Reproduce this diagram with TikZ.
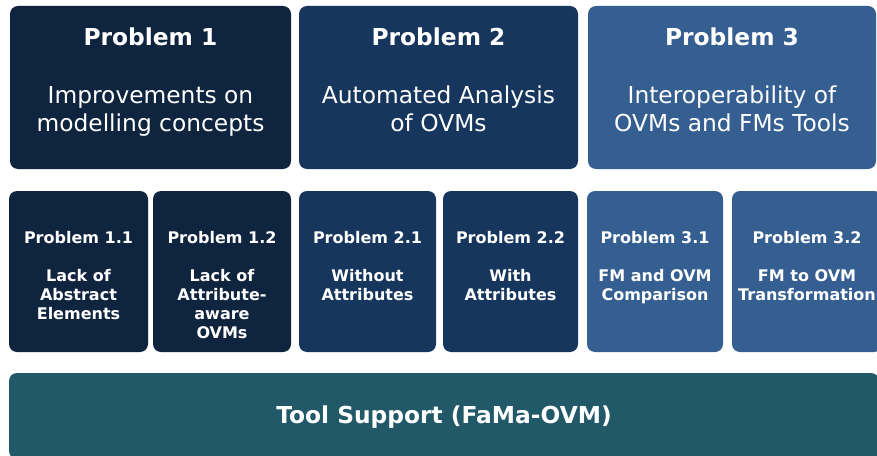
\documentclass[tikz,border=0pt]{standalone}
\usepackage{fontspec}
\setmainfont{DejaVu Sans}
\usepackage{tikz}
\usetikzlibrary{positioning}

\definecolor{probone}{HTML}{0F243E}
\definecolor{probtwo}{HTML}{17365D}
\definecolor{probthree}{HTML}{365F91}
\definecolor{tooltone}{HTML}{215968}

\tikzset{
  probbox/.style={rounded corners=6pt, inner sep=0pt, draw=none},
  bigtext/.style={anchor=north, inner sep=0pt, align=center, text=white,
    font=\fontsize{17.5}{21}\selectfont},
  smalltext/.style={anchor=north, inner sep=0pt, align=center, text=white,
    font=\fontsize{12}{14.25}\selectfont\bfseries}
}

\begin{document}
\begin{tikzpicture}[x=0.75pt, y=-0.75pt]
      \useasboundingbox (0,0) rectangle (877,456);
      \fill[white] (0,0) rectangle (877,456);
      \clip (0,0) rectangle (877,456);

      % main problems
      \node[probbox, fill=probone, minimum width=210.75pt, minimum height=122.25pt] (p1) at (150.5,87.5) {};
      \node[probbox, fill=probtwo, minimum width=209.25pt, minimum height=122.25pt] (p2) at (438.5,87.5) {};
      \node[probbox, fill=probthree, minimum width=216pt, minimum height=122.25pt] (p3) at (732,87.5) {};

      \node[bigtext] (t1) at (150.5,28) {{\bfseries Problem 1}\\[22.5pt]Improvements on\\modelling concepts};
      \node[bigtext] (t2) at (438.5,28) {{\bfseries Problem 2}\\[22.5pt]Automated Analysis\\of OVMs};
      \node[bigtext] (t3) at (732,28) {{\bfseries Problem 3}\\[22.5pt]Interoperability of\\OVMs and FMs Tools};

      % sub-problems
      \node[probbox, fill=probone, minimum width=104.25pt, minimum height=120.75pt] (p11) at (78.5,271.5) {};
      \node[probbox, fill=probone, minimum width=103.5pt, minimum height=120.75pt] (p12) at (222,271.5) {};
      \node[probbox, fill=probtwo, minimum width=102.75pt, minimum height=120.75pt] (p21) at (367.5,271.5) {};
      \node[probbox, fill=probtwo, minimum width=101.25pt, minimum height=120.75pt] (p22) at (510.5,271.5) {};
      \node[probbox, fill=probthree, minimum width=102pt, minimum height=120.75pt] (p31) at (655,271.5) {};
      \node[probbox, fill=probthree, minimum width=112.5pt, minimum height=120.75pt] (p32) at (807,271.5) {};

      \node[smalltext] (t11) at (78.5,231) {Problem 1.1\\[14.25pt]Lack of\\Abstract\\Elements};
      \node[smalltext] (t12) at (222,231) {Problem 1.2\\[14.25pt]Lack of\\Attribute-\\aware\\OVMs};
      \node[smalltext] (t21) at (367.5,231) {Problem 2.1\\[14.25pt]Without\\Attributes};
      \node[smalltext] (t22) at (510.5,231) {Problem 2.2\\[14.25pt]With\\Attributes};
      \node[smalltext] (t31) at (655,231) {Problem 3.1\\[14.25pt]FM and OVM\\Comparison};
      \node[smalltext] (t32) at (807,231) {Problem 3.2\\[14.25pt]FM to OVM\\Transformation};

      % tool support
      \node[probbox, fill=tooltone, minimum width=652.5pt, minimum height=64.5pt] (tool) at (444,416) {};
      \node[anchor=base, inner sep=0pt, text=white, font=\fontsize{17.5}{21}\selectfont\bfseries] (ttool) at (444,423) {Tool Support (FaMa-OVM)};
\end{tikzpicture}
\end{document}
